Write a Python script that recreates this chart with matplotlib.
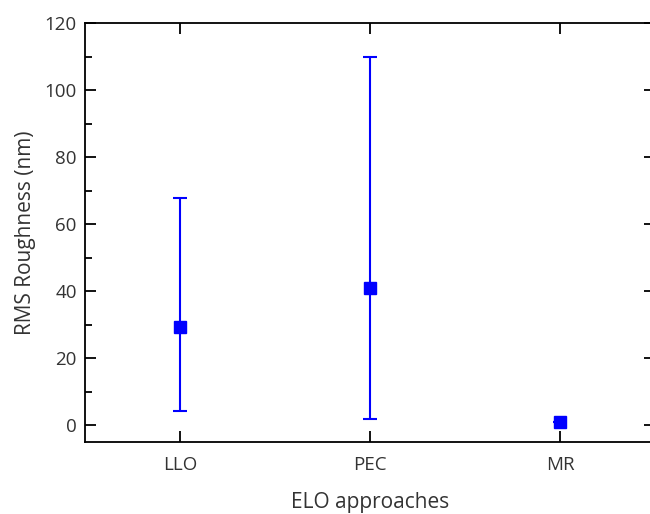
import numpy as np
import matplotlib.pyplot as plt
from matplotlib.ticker import MultipleLocator

plt.rcParams['font.family'] = ['Open Sans', 'DejaVu Sans']

# valores
categorias = ["LLO", "PEC", "MR"]
rms = [29.2, 40.9, 0.9]
err_inf = [4.2, 1.8, 0.9]
err_sup = [67.9, 109.9, 0.9]

x = np.arange(1, len(categorias) + 1)
yerr = [np.array(rms) - np.array(err_inf), np.array(err_sup) - np.array(rms)]

fig = plt.figure(figsize=(6.5, 5.14), dpi=100)
ax = fig.add_axes([85 / 650, 72 / 514, 570 / 650, 419 / 514])

ax.errorbar(x, rms, yerr=yerr, fmt='s', color='#0000ff', ecolor='#0000ff',
            markersize=9, elinewidth=1.5, capsize=5, capthick=1.5)

ax.set_xlim(0.5, 3.5)
ax.set_ylim(-5, 120)
ax.set_xticks(x)
ax.set_xticklabels(categorias)
ax.yaxis.set_major_locator(MultipleLocator(20))
ax.yaxis.set_minor_locator(MultipleLocator(10))

ax.spines['right'].set_visible(False)
for s in ['left', 'bottom', 'top']:
    ax.spines[s].set_linewidth(1.3)

ax.tick_params(axis='both', which='major', direction='in', length=8, width=1.3,
               labelsize=13.5, labelcolor='#333333', top=True, right=True)
ax.tick_params(axis='y', which='minor', direction='in', length=5, width=1.3, right=False)
ax.tick_params(axis='x', which='major', pad=10)
ax.tick_params(axis='y', which='major', pad=6)

# la etiqueta del eje x queda justo dentro del borde inferior
ax.set_xlabel("ELO approaches", fontsize=15, color='#333333', labelpad=13)
ax.set_ylabel("RMS Roughness (nm)", fontsize=15, color='#333333', labelpad=6)

plt.savefig("out.png", dpi=100)
